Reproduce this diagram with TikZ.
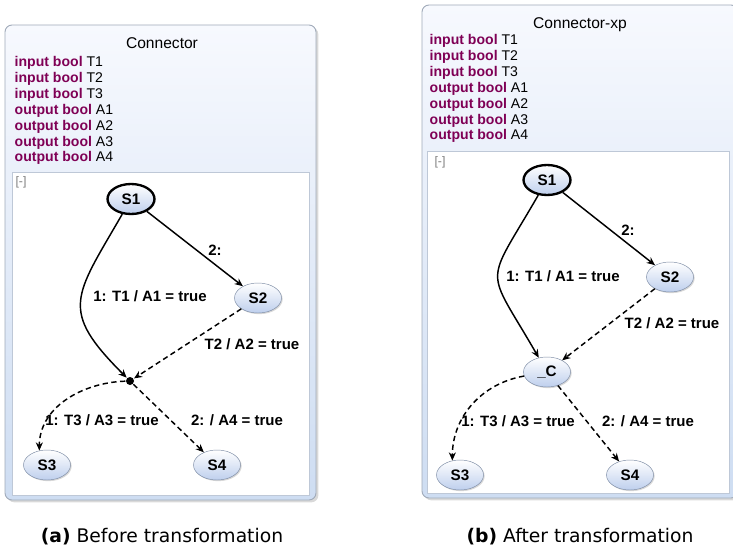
\documentclass[tikz,border=0pt]{standalone}
\usepackage{fontspec}
\setmainfont{Liberation Sans}
\newfontfamily\capfont{DejaVu Sans}
\usetikzlibrary{arrows.meta,positioning,shapes.geometric,shadows}
\definecolor{kw}{RGB}{127,0,85}
\definecolor{stfill}{RGB}{190,207,237}
\definecolor{stline}{RGB}{125,140,165}
\definecolor{boxtop}{RGB}{247,249,254}
\definecolor{boxbot}{RGB}{206,221,242}
\definecolor{boxline}{RGB}{160,170,185}
\definecolor{panelline}{RGB}{190,200,215}

\begin{document}
\begin{tikzpicture}[x=0.03cm,y=0.03cm,>={Stealth[length=7pt,width=6pt]},line width=1.25pt,
  outerbox/.style={draw=boxline,line width=0.8pt,rounded corners=6pt,top color=boxtop,bottom color=boxbot,
    drop shadow={shadow xshift=2pt,shadow yshift=-2pt,opacity=0.3}},
  panel/.style={draw=panelline,line width=0.6pt,fill=white},
  title/.style={font=\fontsize{13.3}{15}\selectfont},
  decl/.style={anchor=base west,inner sep=0pt,font=\fontsize{12}{14}\selectfont},
  fold/.style={text=gray,font=\fontsize{10.5}{12}\selectfont,inner sep=0pt},
  state/.style={ellipse,draw=stline,line width=0.4pt,top color=white,bottom color=stfill,
    minimum width=1.41cm,minimum height=0.9cm,inner sep=0pt,font=\bfseries\fontsize{13}{15}\selectfont,
    drop shadow={shadow xshift=1pt,shadow yshift=-1pt,opacity=0.3}},
  startstate/.style={draw=black,line width=2pt},
  junction/.style={circle,fill=black,inner sep=0pt,minimum size=0.24cm},
  lbl/.style={font=\bfseries\fontsize{12.8}{15}\selectfont,inner sep=0pt},
  trans/.style={->},
  weak/.style={->,dash pattern=on 4.5pt off 3pt},
  capt/.style={font=\capfont\fontsize{16}{18}\selectfont}]
  \useasboundingbox (0,0) rectangle (733,548);

  % (a) before transformation
  \draw[outerbox] (5,523) rectangle (316,48);
  \draw[panel] (12,376) rectangle (309,53);
  \node[title] (titleA) at (162,505) {Connector};
  \foreach \k/\v [count=\i] in {input/T1,input/T2,input/T3,output/A1,output/A2,output/A3,output/A4}
    \node[decl] (declA\i) at (14,{481-15.8*(\i-1)}) {\textcolor{kw}{\bfseries\k\ bool} \v};
  \node[fold] (foldA) at (21,366) {[-]};
  \node[state,startstate] (S1a) at (131,349) {S1};
  \node[state] (S2a) at (258,250) {S2};
  \node[junction] (dotA) at (130,167) {};
  \node[state] (S3a) at (47,83) {S3};
  \node[state] (S4a) at (217,83) {S4};
  \draw[trans] (S1a) to[out=240,in=135,looseness=1.5] (dotA);
  \draw[trans] (S1a) -- (S2a);
  \draw[weak] (S2a) -- (dotA);
  \draw[weak] (dotA) to[out=182,in=90] (S3a.118);
  \draw[weak] (dotA) -- (S4a);
  \node[lbl] (l1a) at (150,252) {1: T1 / A1 = true};
  \node[lbl] (l2a) at (215,298) {2:};
  \node[lbl] (l3a) at (252,204) {T2 / A2 = true};
  \node[lbl] (l4a) at (102,128) {1: T3 / A3 = true};
  \node[lbl] (l5a) at (237,128) {2: / A4 = true};

  % (b) after transformation
  \draw[outerbox] (422,543) rectangle (738,50);
  \draw[panel] (427,397) rectangle (729,55);
  \node[title] (titleB) at (580,523) {Connector-xp};
  \foreach \k/\v [count=\i] in {input/T1,input/T2,input/T3,output/A1,output/A2,output/A3,output/A4}
    \node[decl] (declB\i) at (429,{503-15.8*(\i-1)}) {\textcolor{kw}{\bfseries\k\ bool} \v};
  \node[fold] (foldB) at (440,386) {[-]};
  \node[state,startstate] (S1b) at (547,368) {S1};
  \node[state] (S2b) at (670,271) {S2};
  \node[state] (Cb) at (547,176) {\_C};
  \node[state] (S3b) at (460,73) {S3};
  \node[state] (S4b) at (630,73) {S4};
  \draw[trans] (S1b) to[out=240,in=120,looseness=1.7] (Cb);
  \draw[trans] (S1b) -- (S2b);
  \draw[weak] (S2b) -- (Cb);
  \draw[weak] (Cb) to[out=190,in=90] (S3b.118);
  \draw[weak] (Cb) -- (S4b);
  \node[lbl] (l1b) at (563,272) {1: T1 / A1 = true};
  \node[lbl] (l2b) at (628,318) {2:};
  \node[lbl] (l3b) at (672,225) {T2 / A2 = true};
  \node[lbl] (l4b) at (518,127) {1: T3 / A3 = true};
  \node[lbl] (l5b) at (648,127) {2: / A4 = true};

  % captions
  \node[capt] (capA) at (162,11) {\textbf{(a)} Before transformation};
  \node[capt] (capB) at (580,11) {\textbf{(b)} After transformation};
\end{tikzpicture}
\end{document}
